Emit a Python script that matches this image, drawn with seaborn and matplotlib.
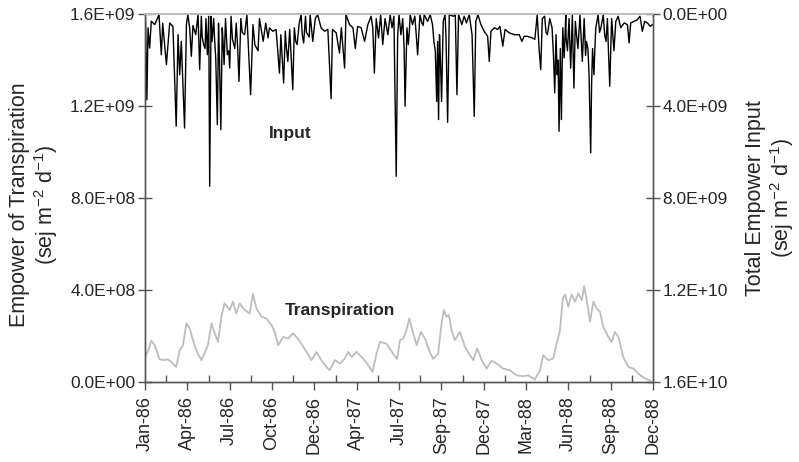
import matplotlib
matplotlib.use("Agg")
import matplotlib.pyplot as plt
import numpy as np
import pandas as pd
import seaborn as sns

# ---- data (day 0 = 1 Jan 1986) ----
transp_day = [1, 6, 13.5, 21, 31, 38.6, 49, 57, 67, 74.5, 81.6, 89, 96, 103, 110, 121,
              128, 135, 143, 150, 157, 164, 171, 182, 189, 196, 203.5, 214, 225, 232,
              239.5, 250, 261, 272, 279, 286, 297, 307.5, 318, 325.5, 336, 347, 358,
              368.6, 379, 390, 397, 408, 419, 429.5, 436.6, 444, 454.6, 469, 479.6,
              489, 497.7, 505, 519, 533, 542, 548, 555, 562, 568, 576.5, 584, 593,
              601.6, 612, 619.5, 630, 637.5, 642.5, 648, 653, 659, 666, 677, 687.7,
              698.5, 705.5, 714, 723.6, 734, 745, 756, 770, 784.5, 799, 813, 824, 838,
              849, 856, 867, 877.6, 885, 892, 898, 903, 910, 917, 924, 931.5, 939,
              944, 949.5, 956.6, 963.7, 971, 978, 985, 996, 1003, 1010, 1017.5, 1028,
              1039, 1050, 1060.6, 1075, 1086]
transp_e8 = [1.16, 1.31, 1.79, 1.60, 1.00, 0.95, 0.98, 0.87, 0.65, 1.38, 1.60, 2.55, 2.33,
             1.82, 1.38, 0.95, 1.24, 1.60, 2.55, 2.11, 1.74, 2.84, 3.42, 3.13, 3.49, 2.98,
             3.42, 3.13, 2.98, 3.83, 3.20, 2.84, 2.76, 2.47, 2.18, 1.60, 1.96, 1.89,
             2.11, 1.96, 1.67, 1.31, 0.95, 1.31, 0.95, 0.65, 0.51, 0.95, 0.80, 1.02,
             1.31, 1.09, 1.31, 1.02, 0.73, 0.44, 1.24, 1.74, 1.67, 1.24, 1.00, 1.82,
             1.89, 2.25, 2.76, 2.11, 1.60, 2.18, 1.89, 1.31, 1.00, 1.24, 2.55, 3.13,
             2.84, 2.91, 2.25, 1.82, 2.18, 1.53, 1.16, 0.95, 1.46, 0.95, 0.58, 0.92,
             0.80, 0.58, 0.51, 0.29, 0.25, 0.29, 0.10, 0.51, 1.16, 0.95, 1.02, 1.67,
             2.25, 3.64, 3.80, 3.27, 3.80, 3.49, 3.85, 3.56, 4.17, 3.56, 2.62, 3.49,
             3.20, 3.05, 2.40, 1.96, 1.74, 2.18, 1.96, 1.09, 0.65, 0.58, 0.36, 0.15, 0.07]

# total empower input: baseline days and the major rain spikes
input_day = [1, 4, 6.5, 10, 13.5, 21, 30, 35, 38, 46, 53, 60, 67, 71, 74.5, 78, 81.6, 85,
             89, 92, 96, 99.6, 103, 109, 114, 117.5, 121, 126, 131, 134, 137, 139, 142,
             147.6, 152, 155.5, 158, 163, 166, 170, 173, 177, 182, 185, 193, 196, 202,
             206, 214, 219, 227, 232, 236, 243, 246, 254, 259.5, 264.5, 267.5, 274.6,
             281.7, 289, 292, 298, 301.5, 307, 311, 317.6, 321, 327, 331.5, 335.5, 341,
             345, 350, 355, 360.6, 366, 371, 378.5, 386, 393, 400, 403, 411, 418, 422,
             429, 432, 439.6, 447, 452, 457, 464.6, 472, 479, 486, 489.6, 493, 497, 502,
             506.5, 511, 516, 522, 527, 531, 535, 540, 546, 550, 554, 559, 563, 566,
             570, 575, 580, 586, 591, 595, 600, 607.5, 613, 618, 624, 627, 629, 631,
             633, 637.5, 641, 645, 650.5, 654, 663, 667, 670.5, 674, 681, 686, 691,
             697, 703, 707.7, 711, 715.6, 722, 729, 736.5, 740, 743.6, 751, 758, 763,
             769, 774, 783, 794, 804.5, 810, 815, 822, 832.5, 838, 843, 847, 850.6,
             854, 859, 865, 870, 875, 880.7, 883.5, 886, 890, 892.7, 895, 898, 901,
             904.5, 908, 911.5, 915, 918.6, 922, 925, 930.6, 935, 940, 944, 949, 954.5,
             958, 962, 965, 969, 974, 980, 985, 991, 994, 999, 1003, 1008, 1012, 1017,
             1022.7, 1030, 1037, 1040.6, 1044, 1051, 1058, 1064, 1069, 1074, 1080,
             1086, 1090.7]
input_e9 = [0.17, 3.73, 0.60, 1.48, 0.32, 0.46, 0.03, 1.77, 0.40, 2.20, 0.39, 0.54, 4.88,
            0.90, 2.64, 1.19, 3.07, 4.96, 0.46, 0.03, 0.60, 1.84, 0.50, 0.90, 0.03, 2.42,
            0.10, 1.33, 0.20, 1.77, 0.10, 7.49, 0.10, 0.20, 1.91, 4.81, 0.40, 5.03, 0.60,
            2.20, 0.20, 1.77, 2.35, 0.10, 1.50, 0.40, 2.93, 0.20, 0.90, 0.03, 3.51, 0.46,
            1.33, 1.60, 0.20, 1.19, 0.40, 1.04, 0.60, 0.75, 0.67, 2.57, 0.90, 3.00, 0.75,
            2.06, 0.67, 3.29, 0.60, 1.33, 0.40, 0.03, 1.26, 0.10, 0.90, 0.03, 1.19, 0.20,
            0.03, 0.60, 0.75, 0.67, 3.68, 0.67, 0.82, 1.70, 0.60, 2.35, 0.03, 0.46, 0.60,
            1.50, 0.54, 0.60, 1.19, 0.46, 0.10, 0.60, 2.57, 0.20, 1.04, 0.03, 1.33, 0.20,
            0.90, 0.03, 0.60, 0.10, 7.06, 0.03, 0.90, 0.20, 4.01, 0.60, 1.33, 0.03, 0.46,
            0.10, 1.77, 0.03, 0.39, 0.03, 0.32, 0.03, 0.46, 1.62, 3.80, 1.19, 4.59, 0.90,
            3.80, 0.32, 0.03, 4.71, 0.03, 0.10, 0.03, 3.51, 0.03, 0.46, 0.10, 0.39, 0.03,
            0.90, 4.45, 0.32, 0.03, 0.46, 0.75, 0.97, 2.06, 0.75, 0.60, 0.67, 0.54, 1.40,
            0.67, 0.82, 0.90, 0.90, 1.19, 0.97, 0.97, 1.04, 1.10, 0.03, 1.50, 2.42, 0.20,
            0.10, 0.90, 0.20, 0.60, 3.43, 0.90, 2.64, 5.10, 1.50, 4.59, 0.60, 1.91, 0.03,
            1.60, 0.20, 2.35, 0.03, 3.22, 0.32, 1.50, 0.03, 2.06, 0.20, 1.19, 2.64, 6.04,
            1.50, 2.64, 0.60, 0.03, 0.60, 0.03, 1.19, 0.20, 3.14, 0.20, 1.60, 0.32, 0.10,
            0.60, 0.39, 0.46, 1.26, 0.39, 0.32, 0.25, 0.10, 0.75, 0.32, 0.39, 0.54, 0.46]

# smaller showers inside the wet-season clusters
shower_day = [123, 129, 144, 149, 160, 168, 175, 180, 188, 199, 209,
              304, 314, 324, 338, 347, 353,
              543, 557, 568, 583, 598, 621, 635, 647,
              862, 878, 888, 905, 913, 920, 928, 938, 947, 952, 960, 967, 977, 988, 996]
shower_e9 = [1.0, 1.5, 1.2, 0.9, 2.0, 1.3, 1.0, 1.6, 1.1, 1.4, 0.8,
             1.5, 1.8, 1.2, 0.9, 0.8, 1.0,
             1.0, 1.5, 0.8, 0.9, 0.5, 1.2, 2.0, 1.0,
             0.8, 1.8, 2.0, 1.0, 1.2, 1.5, 1.0, 1.3, 1.8, 1.5, 3.0, 1.5, 0.8, 0.9, 1.5]

tick_days = [0, 91, 182, 273, 364, 455, 546, 637, 728, 819, 910, 1001, 1092]
tick_labels = ["Jan-86", "Apr-86", "Jul-86", "Oct-86", "Dec-86", "Apr-87", "Jul-87",
               "Sep-87", "Dec-87", "Mar-88", "Jun-88", "Sep-88", "Dec-88"]
left_ticks = [0, 4e8, 8e8, 1.2e9, 1.6e9]
right_ticks = [0, 4e9, 8e9, 1.2e10, 1.6e10]

df_t = pd.DataFrame({"day": transp_day, "value": np.array(transp_e8) * 1e8})
df_i = pd.concat([
    pd.DataFrame({"day": input_day, "value": np.array(input_e9) * 1e9}),
    pd.DataFrame({"day": shower_day, "value": np.array(shower_e9) * 1e9}),
]).sort_values("day").reset_index(drop=True)

# ---- style ----
sns.set_style("ticks")
plt.rcParams["font.family"] = ["Liberation Sans", "DejaVu Sans"]
plt.rcParams["mathtext.fontset"] = "custom"
plt.rcParams["mathtext.rm"] = "Liberation Sans"
plt.rcParams["mathtext.it"] = "Liberation Sans"

FS = 12.5
LABEL_FS = 15.5
axis_col = "#555555"

fig = plt.figure(figsize=(7.99, 4.62), dpi=100)
ax = fig.add_axes([0.1815, 0.1732, 0.8173 - 0.1815, 0.9697 - 0.1732])
ax2 = ax.twinx()

sns.lineplot(data=df_t, x="day", y="value", ax=ax, color="#bdbdbd", lw=1.3)
sns.lineplot(data=df_i, x="day", y="value", ax=ax2, color="black", lw=1.0,
             sort=False)

ax.set_xlim(0, 1092)
ax.set_ylim(0, 1.6e9)
ax2.set_ylim(1.6e10, 0)

ax.set_xticks(tick_days)
ax.set_xticklabels(tick_labels, rotation=90, fontsize=13)
ax.set_xticks([d + 45.5 for d in tick_days[:-1]], minor=True)
ax.tick_params(axis="x", which="major", direction="out", length=6, width=1,
               color=axis_col, pad=4)
ax.tick_params(axis="x", which="minor", direction="in", length=5, width=1,
               color=axis_col)

ax.set_yticks(left_ticks)
ax.set_yticklabels([f"{v:.1E}" for v in left_ticks], fontsize=FS)
ax.tick_params(axis="y", direction="inout", length=10, width=1, color=axis_col, pad=2)
ax2.set_yticks(right_ticks)
ax2.set_yticklabels([f"{v:.1E}" for v in right_ticks], fontsize=FS)
ax2.tick_params(axis="y", direction="inout", length=10, width=1, color=axis_col, pad=2)

ax.set_xlabel("")
ax.set_ylabel("Empower of Transpiration\n(sej m$^{-2}$ d$^{-1}$)", fontsize=LABEL_FS,
              linespacing=1.1)
ax.yaxis.set_label_coords(-0.167, 0.481)
ax2.set_ylabel("Total Empower Input\n(sej m$^{-2}$ d$^{-1}$)", fontsize=LABEL_FS,
               rotation=90, labelpad=12, linespacing=1.1)
ax2.yaxis.set_label_position("right")

for a in (ax, ax2):
    for side in ("left", "right", "bottom"):
        a.spines[side].set_color(axis_col)
        a.spines[side].set_linewidth(1.0)
    a.spines["top"].set_color("#bbbbbb")
    a.spines["top"].set_linewidth(1.2)
    a.spines["top"].set_visible(True)
    a.spines["right"].set_visible(True)

# series labels, placed in data coordinates (days, left-axis units)
ax.text(313, 1.08e9, "Input", fontsize=FS, fontweight="bold", ha="center", va="center")
ax.text(418, 3.1e8, "Transpiration", fontsize=FS, fontweight="bold", ha="center",
        va="center")

fig.savefig("out.png", dpi=100)
